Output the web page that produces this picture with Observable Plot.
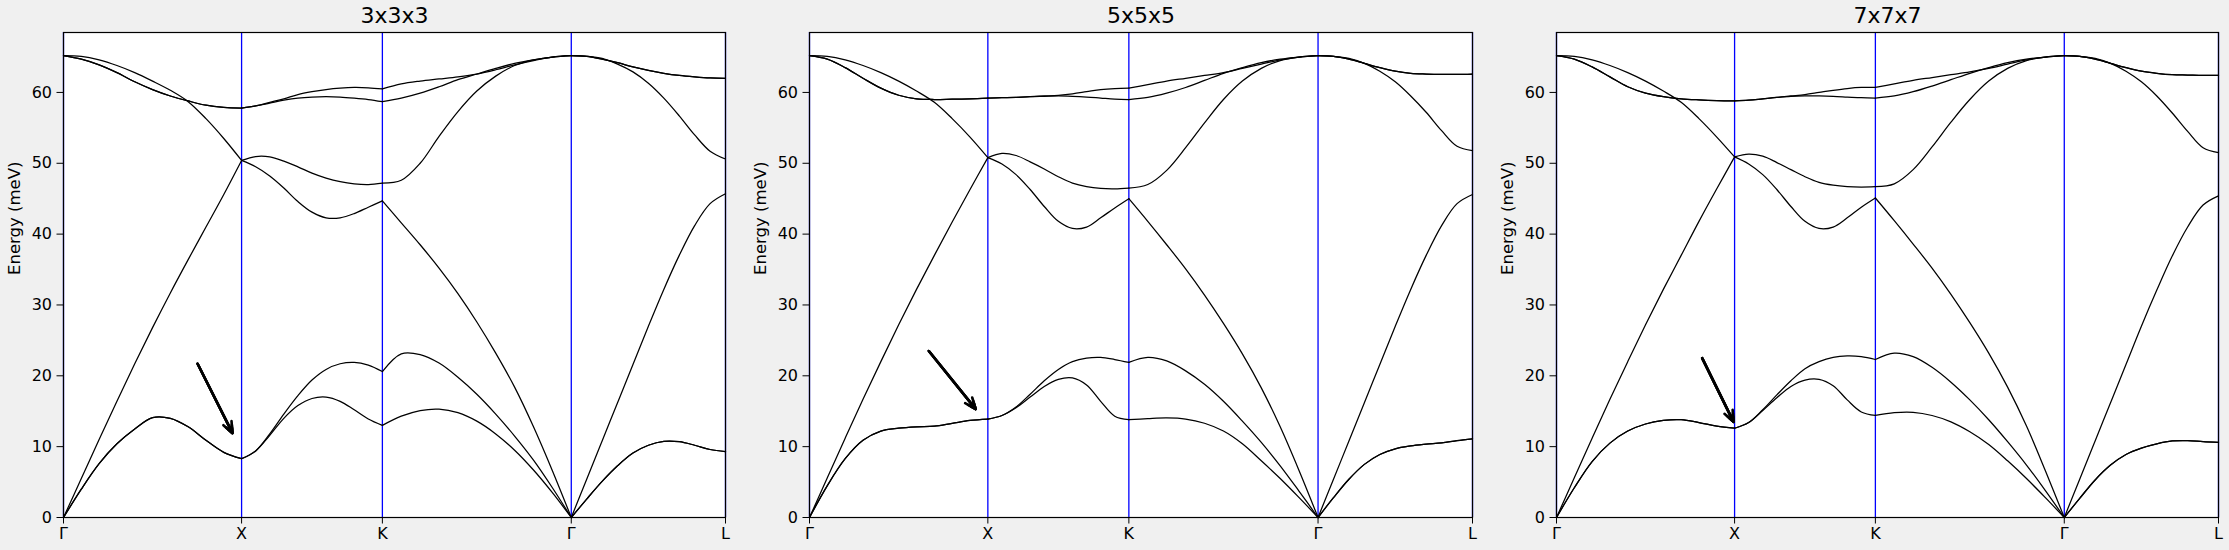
<!DOCTYPE html>
<html><head><meta charset="utf-8">
<script src="https://cdn.jsdelivr.net/npm/d3@7"></script>
<script src="https://cdn.jsdelivr.net/npm/@observablehq/plot@0.6"></script>
<style>
html,body{margin:0;padding:0;background:#f0f0f0;}
#wrap{position:relative;width:2229px;height:550px;background:#f0f0f0;overflow:hidden;}
.panel{position:absolute;top:0;}
</style></head><body><div id="wrap"></div>
<script>
// ---- data ----
const kLabels = ["Γ", "X", "K", "Γ", "L"];
const kDist = [0, 1, 1.7906, 2.8513, 3.7173];          // path length (2π/a) of high-symmetry points
const tSeg = [0, 0.1, 0.2, 0.3, 0.4, 0.5, 0.6, 0.7, 0.8, 0.9, 1]; // fraction along each segment
const titles = ["3x3x3", "5x5x5", "7x7x7"];
const yTicks = [0, 10, 20, 30, 40, 50, 60];
const yLabel = "Energy (meV)";

// band energies (meV); each band: Γ-X | X-K | K-Γ | Γ-L (11 samples each)
// --- 3x3x3 ---
const q3_b1 = [0,4.0,7.6,10.4,12.5,14.1,14.0,12.8,10.9,9.2,8.3,
  8.3,9.4,11.6,14.0,15.8,16.8,17.0,16.4,15.2,13.9,13.0,
  13.0,14.3,15.1,15.3,14.8,13.6,11.8,9.5,6.7,3.5,0,
  0,2.6,5.1,7.3,9.1,10.2,10.75,10.7,10.2,9.6,9.3];
const q3_b2 = [0,4.0,7.6,10.4,12.5,14.1,14.0,12.8,10.9,9.2,8.3,
  8.3,9.4,11.8,14.6,17.2,19.4,20.9,21.7,21.9,21.5,20.6,
  20.6,23.1,23.0,21.8,19.8,17.4,14.6,11.5,8.1,4.2,0,
  0,2.6,5.1,7.3,9.1,10.2,10.75,10.7,10.2,9.6,9.3];
const q3_b3 = [0,5.5,11.0,16.4,21.7,26.8,31.7,36.4,41.0,45.6,50.4,
  50.4,49.5,48.2,46.5,44.6,43.1,42.3,42.3,42.9,43.8,44.7,
  44.7,41.6,38.5,35.2,31.6,27.6,23.2,18.4,12.8,6.6,0,
  0,5.4,10.8,16.2,21.6,27.0,32.2,37.0,41.2,44.3,45.7];
const q3_b4 = [65.2,65.1,64.6,63.8,62.8,61.6,60.3,58.7,56.3,53.5,50.4,
  50.4,50.95,50.9,50.3,49.5,48.6,47.9,47.4,47.1,47.0,47.2,
  47.2,47.6,50.0,53.8,57.3,60.2,62.3,63.8,64.6,65.0,65.2,
  65.2,65.1,64.8,64.0,62.9,61.3,59.2,56.7,54.0,51.7,50.6];
const q3_b5 = [65.2,64.7,63.9,62.8,61.5,60.4,59.5,58.8,58.2,57.9,57.8,
  57.8,58.1,58.5,58.9,59.2,59.35,59.4,59.35,59.2,59.0,58.7,
  58.7,59.2,59.9,60.8,61.8,62.6,63.4,64.1,64.6,65.0,65.2,
  65.2,65.1,64.7,64.2,63.6,63.1,62.7,62.4,62.2,62.05,62.0];
const q3_b6 = [65.2,64.7,63.9,62.8,61.5,60.4,59.5,58.8,58.2,57.9,57.8,
  57.8,58.1,58.6,59.1,59.7,60.1,60.4,60.6,60.7,60.65,60.5,
  60.5,61.2,61.6,61.9,62.2,62.6,63.2,63.9,64.5,65.0,65.2,
  65.2,65.1,64.7,64.2,63.6,63.1,62.7,62.4,62.2,62.05,62.0];
// --- 5x5x5 ---
const q5_b1 = [0,4.5,8.3,10.9,12.2,12.6,12.8,12.9,13.3,13.7,13.9,
  13.9,14.4,15.5,17.0,18.5,19.5,19.7,18.7,16.4,14.3,13.8,
  13.8,13.95,14.05,13.9,13.3,12.2,10.4,8.0,5.5,2.8,0,
  0,2.8,5.4,7.5,8.9,9.7,10.1,10.35,10.55,10.85,11.1];
const q5_b2 = [0,4.5,8.3,10.9,12.2,12.6,12.8,12.9,13.3,13.7,13.9,
  13.9,14.4,15.6,17.4,19.3,20.9,22.0,22.5,22.6,22.3,21.9,
  21.9,22.6,22.1,20.7,18.8,16.4,13.6,10.6,7.3,3.7,0,
  0,2.8,5.4,7.5,8.9,9.7,10.1,10.35,10.55,10.85,11.1];
const q5_b3 = [0,5.6,11.2,16.7,22.0,27.2,32.2,37.0,41.7,46.3,50.8,
  50.8,49.9,48.4,46.3,43.9,41.8,40.8,41.0,42.3,43.7,45.0,
  45.0,41.8,38.5,35.1,31.4,27.4,23.1,18.3,12.8,6.6,0,
  0,5.4,10.8,16.2,21.6,27.0,32.2,37.0,41.2,44.3,45.6];
const q5_b4 = [65.2,65.1,64.6,63.8,62.8,61.6,60.2,58.6,56.3,53.7,50.8,
  50.8,51.4,51.1,50.2,49.2,48.1,47.2,46.7,46.45,46.4,46.5,
  46.5,47.0,49.0,52.2,55.7,59.0,61.6,63.4,64.5,65.0,65.2,
  65.2,65.1,64.8,64.1,63.0,61.5,59.5,57.2,54.6,52.4,51.8];
const q5_b5 = [65.2,64.7,63.5,62.0,60.6,59.6,59.1,59.0,59.05,59.1,59.2,
  59.2,59.25,59.3,59.4,59.45,59.5,59.45,59.35,59.2,59.05,59.0,
  59.0,59.3,59.9,60.7,61.7,62.7,63.5,64.2,64.7,65.0,65.2,
  65.2,65.1,64.7,64.1,63.5,63.0,62.7,62.6,62.55,62.55,62.6];
const q5_b6 = [65.2,64.7,63.5,62.0,60.6,59.6,59.1,59.0,59.05,59.1,59.2,
  59.2,59.25,59.3,59.4,59.5,59.6,59.8,60.1,60.4,60.55,60.6,
  60.6,61.1,61.6,62.0,62.4,62.8,63.4,64.0,64.6,65.0,65.2,
  65.2,65.1,64.7,64.1,63.5,63.0,62.7,62.6,62.55,62.55,62.6];
// --- 7x7x7 ---
const q7_b1 = [0,4.2,7.9,10.5,12.2,13.2,13.7,13.8,13.4,12.9,12.6,
  12.6,13.4,15.1,16.9,18.5,19.4,19.5,18.6,16.6,14.9,14.4,
  14.4,14.8,14.85,14.4,13.5,12.1,10.3,8.0,5.5,2.8,0,
  0,2.7,5.3,7.4,8.9,9.8,10.4,10.8,10.85,10.7,10.6];
const q7_b2 = [0,4.2,7.9,10.5,12.2,13.2,13.7,13.8,13.4,12.9,12.6,
  12.6,13.4,15.2,17.3,19.3,21.0,22.0,22.6,22.8,22.7,22.3,
  22.3,23.2,22.7,21.2,19.1,16.6,13.8,10.7,7.4,3.8,0,
  0,2.7,5.3,7.4,8.9,9.8,10.4,10.8,10.85,10.7,10.6];
const q7_b3 = [0,5.6,11.2,16.7,22.0,27.2,32.2,37.0,41.8,46.4,50.9,
  50.9,49.9,48.4,46.3,43.9,41.8,40.8,41.0,42.3,43.8,45.1,
  45.1,41.9,38.6,35.2,31.5,27.5,23.2,18.4,12.9,6.6,0,
  0,5.4,10.8,16.2,21.6,27.0,32.1,36.9,41.0,44.1,45.4];
const q7_b4 = [65.2,65.1,64.6,63.8,62.8,61.6,60.2,58.6,56.3,53.7,50.9,
  50.9,51.3,51.0,50.1,49.1,48.1,47.3,46.9,46.7,46.65,46.7,
  46.7,47.1,49.1,52.3,55.8,59.0,61.6,63.4,64.5,65.0,65.2,
  65.2,65.1,64.8,64.1,63.0,61.5,59.5,57.1,54.5,52.2,51.5];
const q7_b5 = [65.2,64.7,63.6,62.2,60.8,59.9,59.4,59.1,58.95,58.85,58.8,
  58.8,58.9,59.1,59.3,59.45,59.5,59.5,59.45,59.35,59.25,59.2,
  59.2,59.5,60.1,60.9,61.8,62.7,63.5,64.2,64.7,65.0,65.2,
  65.2,65.1,64.7,64.1,63.5,63.0,62.7,62.5,62.45,62.4,62.4];
const q7_b6 = [65.2,64.7,63.6,62.2,60.8,59.9,59.4,59.1,58.95,58.85,58.8,
  58.8,58.9,59.1,59.3,59.5,59.7,60.0,60.3,60.55,60.7,60.7,
  60.7,61.2,61.7,62.1,62.5,62.9,63.4,64.0,64.6,65.0,65.2,
  65.2,65.1,64.7,64.1,63.5,63.0,62.7,62.5,62.45,62.4,62.4];

// annotation arrows (tail -> head), in path units / meV
const arrowX1 = [0.753, 0.669, 0.818];
const arrowY1 = [21.7, 23.5, 22.5];
const arrowX2 = [0.949, 0.932, 0.994];
const arrowY2 = [11.9, 15.3, 13.5];

// ---- build ----
const bandSets = [
  [q3_b1, q3_b2, q3_b3, q3_b4, q3_b5, q3_b6],
  [q5_b1, q5_b2, q5_b3, q5_b4, q5_b5, q5_b6],
  [q7_b1, q7_b2, q7_b3, q7_b4, q7_b5, q7_b6]
];
function rowsFor(bands) {
  const rows = [];
  const n = tSeg.length;
  bands.forEach((b, bi) => {
    for (let s = 0; s < 4; s++) {
      for (let i = 0; i < n; i++) {
        rows.push({k: kDist[s] + tSeg[i] * (kDist[s + 1] - kDist[s]), e: b[s * n + i], z: bi * 10 + s});
      }
    }
  });
  return rows;
}
const layout = [
  {left: 0, ml: 63, mr: 18},
  {left: 743, ml: 66, mr: 14},
  {left: 1486, ml: 70, mr: 11}
];
const wrap = document.getElementById("wrap");
const eMax = 65.2 * 1.05;
const arrowOpts = {x1: "x1", y1: "y1", x2: "x2", y2: "y2", stroke: "black", strokeWidth: 2.6, headAngle: 44};
layout.forEach((L, p) => {
  const rows = rowsFor(bandSets[p]);
  const arrow = [{x1: arrowX1[p], y1: arrowY1[p], x2: arrowX2[p], y2: arrowY2[p]}];
  const chart = Plot.plot({
    width: 743, height: 550,
    marginLeft: L.ml, marginRight: L.mr, marginTop: 32, marginBottom: 33,
    style: {background: "transparent", fontFamily: "DejaVu Sans", fontSize: "16px", color: "black", overflow: "visible"},
    x: {domain: [kDist[0], kDist[4]]},
    y: {domain: [0, eMax]},
    marks: [
      Plot.frame({fill: "white", stroke: null}),
      Plot.ruleX(kDist, {stroke: "blue", strokeWidth: 1.3}),
      Plot.line(rows, {x: "k", y: "e", z: "z", curve: "catmull-rom", stroke: "black", strokeWidth: 1.25}),
      Plot.arrow(arrow, {...arrowOpts, headLength: 7}),
      Plot.arrow(arrow, {...arrowOpts, headLength: 5}),
      Plot.arrow(arrow, {...arrowOpts, headLength: 3}),
      Plot.frame({stroke: "black", strokeWidth: 1.2}),
      Plot.axisX({ticks: kDist, tickFormat: d => kLabels[kDist.indexOf(d)], tickSize: 6.5, tickPadding: 4, label: null, fontSize: 16}),
      Plot.axisY({ticks: yTicks, tickSize: 6.5, tickPadding: 5, label: null, fontSize: 16}),
      Plot.text([titles[p]], {frameAnchor: "top", lineAnchor: "middle", dy: -16.4, fontSize: 22, fill: "black"}),
      Plot.text([yLabel], {frameAnchor: "left", rotate: -90, dx: -49, fontSize: 16.5, fill: "black"})
    ]
  });
  const div = document.createElement("div");
  div.className = "panel";
  div.style.left = L.left + "px";
  div.appendChild(chart);
  wrap.appendChild(div);
});
</script></body></html>
